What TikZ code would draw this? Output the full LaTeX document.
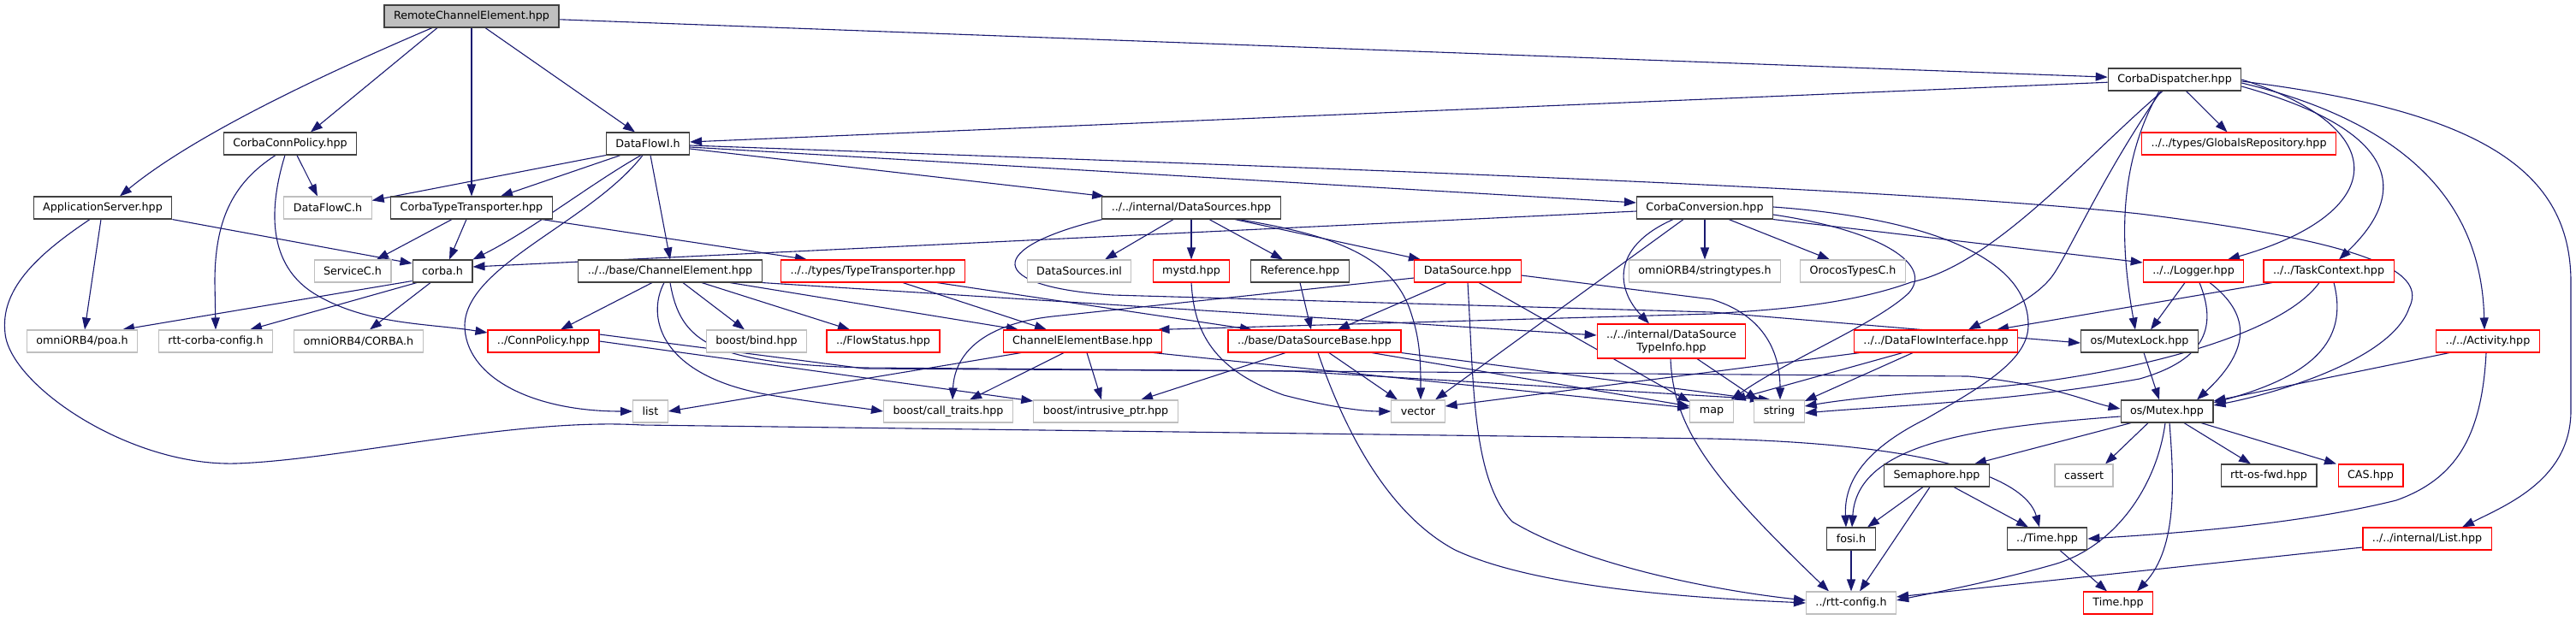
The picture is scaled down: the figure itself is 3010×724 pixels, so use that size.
\documentclass[tikz,border=0pt]{standalone}
\usepackage{fontspec}
\setmainfont{DejaVu Sans}
\usetikzlibrary{arrows.meta}

\definecolor{edgeblue}{HTML}{191970}
\definecolor{boxgray}{HTML}{BFBFBF}
\definecolor{boxred}{HTML}{FF0000}
\definecolor{boxblack}{HTML}{404040}

\pgfdeclarelayer{edges}
\pgfsetlayers{edges,main}

\tikzset{
  file/.style={draw=boxblack, fill=white, line width=1.1pt, minimum height=26pt,
    inner xsep=11pt, inner ysep=0pt, font=\fontsize{12.7}{15}\selectfont},
  rootfile/.style={file, fill=boxgray},
  redfile/.style={file, draw=boxred},
  sysfile/.style={file, draw=boxgray},
  dep/.style={draw=edgeblue, line width=1.1pt, -{Triangle[length=14pt,width=10pt]}}
}

\begin{document}
\begin{tikzpicture}[x=1pt,y=-1pt]
\useasboundingbox (0,0) rectangle (3010,724);

% row 0 and 1
\node[rootfile] (rce) at (551,19) {RemoteChannelElement.hpp};
\node[file] (disp) at (2541,93) {CorbaDispatcher.hpp};

% row 2
\node[file] (connpol) at (339,168) {CorbaConnPolicy.hpp};
\node[file] (dfi) at (757,168) {DataFlowI.h};
\node[redfile] (globrep) at (2616,168) {../../types/GlobalsRepository.hpp};

% row 3
\node[file] (appsrv) at (120,243) {ApplicationServer.hpp};
\node[sysfile] (dfc) at (383,243) {DataFlowC.h};
\node[file] (ctt) at (551,243) {CorbaTypeTransporter.hpp};
\node[file] (dss) at (1392,243) {../../internal/DataSources.hpp};
\node[file] (conv) at (1992,243) {CorbaConversion.hpp};

% row 4
\node[sysfile] (servc) at (412,317) {ServiceC.h};
\node[file] (corbah) at (517,317) {corba.h};
\node[file] (chel) at (783,317) {../../base/ChannelElement.hpp};
\node[redfile] (typetr) at (1020,317) {../../types/TypeTransporter.hpp};
\node[sysfile] (dsinl) at (1261,317) {DataSources.inl};
\node[redfile] (mystd) at (1392,317) {mystd.hpp};
\node[file] (ref) at (1519,317) {Reference.hpp};
\node[redfile] (ds) at (1715,317) {DataSource.hpp};
\node[sysfile] (strtypes) at (1992,317) {omniORB4/stringtypes.h};
\node[sysfile] (orocos) at (2165,317) {OrocosTypesC.h};
\node[redfile] (logger) at (2563,317) {../../Logger.hpp};
\node[redfile] (taskctx) at (2721,317) {../../TaskContext.hpp};

% row 5
\node[sysfile] (poa) at (96,399) {omniORB4/poa.h};
\node[sysfile] (corbacfg) at (252,399) {rtt-corba-config.h};
\node[sysfile] (corbaH) at (419,399) {omniORB4/CORBA.h};
\node[redfile] (connp) at (635,399) {../ConnPolicy.hpp};
\node[sysfile] (bind) at (884,399) {boost/bind.hpp};
\node[redfile] (flow) at (1032,399) {../FlowStatus.hpp};
\node[redfile] (cebase) at (1265,399) {ChannelElementBase.hpp};
\node[redfile] (dsbase) at (1536,399) {../base/DataSourceBase.hpp};
\node[redfile, minimum height=40pt, align=center] (dsti) at (1953,399)
  {../../internal/DataSource\\TypeInfo.hpp};
\node[redfile] (dfif) at (2262,399) {../../DataFlowInterface.hpp};
\node[file] (mlock) at (2500,399) {os/MutexLock.hpp};
\node[redfile] (activity) at (2907,399) {../../Activity.hpp};

% row 6
\node[sysfile] (list) at (760,481) {list};
\node[sysfile] (calltr) at (1108,481) {boost/call\_traits.hpp};
\node[sysfile] (intrus) at (1292,481) {boost/intrusive\_ptr.hpp};
\node[sysfile] (vector) at (1657,481) {vector};
\node[sysfile] (map) at (2000,481) {map};
\node[sysfile] (string) at (2079,481) {string};
\node[file] (mutex) at (2532,481) {os/Mutex.hpp};

% row 7
\node[file] (sema) at (2263,556) {Semaphore.hpp};
\node[sysfile] (cassert) at (2435,556) {cassert};
\node[file] (osfwd) at (2651,556) {rtt-os-fwd.hpp};
\node[redfile] (cas) at (2770,556) {CAS.hpp};

% row 8
\node[file] (fosi) at (2163,630) {fosi.h};
\node[file] (time) at (2392,630) {../Time.hpp};
\node[redfile] (ilist) at (2836,630) {../../internal/List.hpp};

% row 9
\node[sysfile] (rttcfg) at (2163,705) {../rtt-config.h};
\node[redfile] (timeh) at (2475,705) {Time.hpp};

\begin{pgfonlayer}{edges}
% RemoteChannelElement.hpp
\draw[dep] ([xshift=-46pt]rce.south) .. controls (300,120) and (200,180) .. ([xshift=20pt]appsrv.north);
\draw[dep] ([xshift=-40pt]rce.south) -- ([xshift=24pt]connpol.north);
\draw[dep] (rce) -- (ctt);
\draw[dep] ([xshift=16pt]rce.south) -- ([xshift=-15pt]dfi.north);
\draw[dep] (rce) -- (disp);

% CorbaDispatcher.hpp
\draw[dep] (disp) -- (dfi);
\draw[dep] (disp) -- (globrep);
\draw[dep] (disp.east) .. controls (2800,150) and (2790,250) .. ([xshift=40pt]logger.north);
\draw[dep] ([yshift=-8pt]disp.east) .. controls (2830,160) and (2800,240) .. ([xshift=12pt]taskctx.north);
\draw[dep] ([yshift=-4pt]disp.east) .. controls (2840,150) and (2900,260) .. ([xshift=-4pt]activity.north);
\draw[dep] ([yshift=-2pt]disp.east) .. controls (2900,130) and (3004,200) .. (3004,330)
  -- (3004,480) .. controls (3004,560) and (2930,590) .. ([xshift=41pt]ilist.north);
\draw[dep] ([xshift=-14pt]disp.south) .. controls (2440,180) and (2330,310) .. (2233,330)
  .. controls (2150,360) and (2050,363) .. (2000,367) -- ([xshift=-6pt]cebase.north east);
\draw[dep] ([xshift=-16pt]disp.south) .. controls (2460,200) and (2420,290) .. (2400,320)
  .. controls (2380,350) and (2330,370) .. ([xshift=38pt]dfif.north);
\draw[dep] ([xshift=-18pt]disp.south) .. controls (2470,200) and (2480,300) .. ([xshift=-5pt]mlock.north);

% CorbaConnPolicy.hpp
\draw[dep] ([xshift=8pt]connpol.south) -- ([xshift=-12pt]dfc.north);
\draw[dep] ([xshift=-17pt]connpol.south) .. controls (270,215) and (251,260) .. (251,330) -- (corbacfg.north);
\draw[dep] ([xshift=-6pt]connpol.south) .. controls (315,240) and (310,310) .. (370,345)
  .. controls (430,380) and (500,378) .. ([yshift=10pt]connp.west);

% ApplicationServer.hpp
\draw[dep] (appsrv.south east) -- ([yshift=9pt]corbah.west);
\draw[dep] ([xshift=-2pt]appsrv.south) -- ([xshift=3pt]poa.north);
\draw[dep] ([xshift=-15pt]appsrv.south) .. controls (40,300) and (0,340) .. (6,390)
  .. controls (12,450) and (150,545) .. (275,542) .. controls (400,538) and (600,488) .. (750,497)
  -- (2000,513) .. controls (2300,520) and (2370,570) .. ([xshift=-9pt]time.north);

% DataFlowI.h
\draw[dep] (dfi.south west) -- ([yshift=-5pt]dfc.north east);
\draw[dep] ([xshift=-32pt]dfi.south) -- ([xshift=34pt]ctt.north);
\draw[dep] ([xshift=-8pt]dfi.south) .. controls (690,215) and (620,270) .. (corbah.north east);
\draw[dep] ([xshift=-6pt]dfi.south) .. controls (690,260) and (545,310) .. (543,380)
  .. controls (543,440) and (620,481) .. (list.west);
\draw[dep] ([xshift=3pt]dfi.south) -- (chel.north);
\draw[dep] ([yshift=-6pt]dfi.east) -- ([xshift=3pt]dss.north west);
\draw[dep] ([yshift=-4pt]dfi.east) -- ([yshift=6pt]conv.west);
\draw[dep] ([yshift=-2pt]dfi.east) .. controls (1500,195) and (2200,218) .. (2500,250)
  .. controls (2780,285) and (2835,320) .. (2815,360) .. controls (2795,420) and (2660,460) .. ([yshift=7pt]mutex.east);

% CorbaTypeTransporter.hpp and corba.h
\draw[dep] ([xshift=-23pt]ctt.south) -- ([xshift=28pt]servc.north);
\draw[dep] ([xshift=-6pt]ctt.south) -- ([xshift=8pt]corbah.north);
\draw[dep] ([xshift=82pt]ctt.south) -- ([xshift=-77pt]typetr.north);
\draw[dep] ([yshift=2pt]corbah.south west) -- ([xshift=47pt]poa.north);
\draw[dep] ([xshift=-30pt]corbah.south) -- ([xshift=40pt]corbacfg.north);
\draw[dep] ([xshift=-14pt]corbah.south) -- ([xshift=13pt]corbaH.north);

% ChannelElement.hpp
\draw[dep] ([xshift=-21pt]chel.south) -- ([xshift=20pt]connp.north);
\draw[dep] ([xshift=-7pt]chel.south) .. controls (755,370) and (770,440) .. (900,462)
  .. controls (960,472) and (1000,476) .. (calltr.west);
\draw[dep] (chel.south) .. controls (795,400) and (830,425) .. (1010,430)
  -- (2300,440) .. controls (2400,450) and (2440,470) .. ([yshift=3pt]mutex.west);
\draw[dep] ([xshift=15pt]chel.south) -- ([xshift=-14pt]bind.north);
\draw[dep] ([xshift=37pt]chel.south) -- ([xshift=-39pt]flow.north);
\draw[dep] ([xshift=70pt]chel.south) -- ([xshift=-75pt]cebase.north);
\draw[dep] (chel.south east) -- ([yshift=7pt]dsti.west);

% TypeTransporter.hpp
\draw[dep] ([xshift=35pt]typetr.south) -- ([xshift=-42pt]cebase.north);
\draw[dep] ([xshift=75pt]typetr.south) -- ([xshift=-73pt]dsbase.north);

% DataSources.hpp
\draw[dep] ([xshift=-21pt]dss.south) -- ([xshift=30pt]dsinl.north);
\draw[dep] (dss) -- (mystd);
\draw[dep] ([xshift=21pt]dss.south) -- ([xshift=-20pt]ref.north);
\draw[dep] ([xshift=51pt]dss.south) -- ([xshift=-55pt]ds.north);
\draw[dep] ([xshift=55pt]dss.south) .. controls (1560,275) and (1630,300) .. (1650,370)
  .. controls (1660,400) and (1660,430) .. ([xshift=3pt]vector.north);
\draw[dep] ([xshift=-104pt]dss.south) .. controls (1150,290) and (1150,335) .. (1300,345)
  -- (2000,365) -- ([yshift=-2pt]mlock.west);

% mystd.hpp, Reference.hpp, DataSource.hpp
\draw[dep] (mystd.south) .. controls (1395,380) and (1410,430) .. (1500,462)
  .. controls (1550,475) and (1590,481) .. (vector.west);
\draw[dep] (ref.south) -- ([xshift=-4pt]dsbase.north);
\draw[dep] ([xshift=-25pt]ds.south) -- ([xshift=27pt]dsbase.north);
\draw[dep] ([yshift=-8pt]ds.west) -- (1230,370) .. controls (1140,380) and (1115,420) .. ([xshift=5pt]calltr.north);
\draw[dep] (ds.south) .. controls (1722,450) and (1720,560) .. (1767,610)
  .. controls (1850,660) and (2000,690) .. ([yshift=3pt]rttcfg.west);
\draw[dep] ([xshift=13pt]ds.south) -- ([yshift=11pt]map.west);
\draw[dep] ([yshift=-5pt]ds.east) -- (2000,350) .. controls (2050,365) and (2080,400) .. ([xshift=1pt]string.north);

% DataSourceBase.hpp
\draw[dep] ([xshift=17pt]dsbase.south) -- ([xshift=-24pt]vector.north);
\draw[dep] ([xshift=-34pt]dsbase.south) -- ([xshift=41pt]intrus.north);
\draw[dep] ([xshift=4pt]dsbase.south) .. controls (1570,500) and (1620,600) .. (1700,643)
  .. controls (1800,690) and (2000,700) .. (rttcfg.west);
\draw[dep] ([xshift=67pt]dsbase.south) -- ([yshift=6pt]map.west);
\draw[dep] (dsbase.south east) -- ([xshift=-20pt]string.north);

% ChannelElementBase.hpp and ConnPolicy.hpp
\draw[dep] ([xshift=-72pt]cebase.south) -- (list.east);
\draw[dep] ([xshift=-22pt]cebase.south) -- ([xshift=25pt]calltr.north);
\draw[dep] ([xshift=5pt]cebase.south) -- ([xshift=-5pt]intrus.north);
\draw[dep] ([xshift=83pt]cebase.south) -- ([yshift=4pt]map.west);
\draw[dep] (connp.east) -- ([yshift=12pt]intrus.west);
\draw[dep] ([yshift=8pt]connp.east) -- (1010,431) -- (1510,434) -- ([xshift=-10pt]string.north);

% DataSourceTypeInfo.hpp, DataFlowInterface.hpp
\draw[dep] ([xshift=-1pt]dsti.south) .. controls (1955,500) and (2000,560) .. ([xshift=-26pt]rttcfg.north);
\draw[dep] ([xshift=30pt]dsti.south) -- ([xshift=-25pt]string.north);
\draw[dep] ([xshift=-89pt]dfif.south) -- ([yshift=6pt]vector.east);
\draw[dep] ([xshift=-39pt]dfif.south) -- (map.north east);
\draw[dep] ([xshift=-27pt]dfif.south) -- ([yshift=12pt]string.east);

% CorbaConversion.hpp
\draw[dep] ([yshift=-4pt]conv.west) -- ([yshift=5pt]corbah.east);
\draw[dep] (conv) -- (strtypes);
\draw[dep] ([xshift=28pt]conv.south) -- ([xshift=-27pt]orocos.north);
\draw[dep] (conv.south east) -- ([yshift=10pt]logger.west);
\draw[dep] ([xshift=-25pt]conv.south) -- ([xshift=20pt]vector.north);
\draw[dep] ([xshift=-37pt]conv.south) .. controls (1880,290) and (1890,340) .. ([xshift=-26pt]dsti.north);
\draw[dep] ([yshift=-8pt]conv.east) .. controls (2200,270) and (2260,310) .. (2230,343)
  .. controls (2190,380) and (2090,420) .. ([xshift=-3pt]map.north east);
\draw[dep] ([yshift=1pt]conv.east) .. controls (2250,255) and (2370,300) .. (2370,380)
  .. controls (2370,420) and (2320,450) .. (2250,490) .. controls (2170,530) and (2155,570) .. ([xshift=-6pt]fosi.north);

% Logger.hpp, TaskContext.hpp, Activity.hpp
\draw[dep] ([xshift=-10pt]logger.south) -- ([xshift=13pt]mlock.north);
\draw[dep] ([xshift=7pt]logger.south) .. controls (2590,380) and (2580,420) .. (2500,443)
  .. controls (2350,470) and (2200,475) .. ([yshift=-2pt]string.east);
\draw[dep] ([xshift=19pt]logger.south) .. controls (2620,360) and (2640,400) .. ([xshift=35pt]mutex.north);
\draw[dep] ([xshift=-66pt]taskctx.south) -- ([xshift=71pt]dfif.north);
\draw[dep] ([xshift=-11pt]taskctx.south) .. controls (2660,400) and (2450,445) .. (2300,455)
  .. controls (2200,462) and (2150,468) .. ([yshift=6pt]string.east);
\draw[dep] ([xshift=6pt]taskctx.south) .. controls (2745,400) and (2700,440) .. ([yshift=10pt]mutex.east);
\draw[dep] ([xshift=-45pt]activity.south) -- ([yshift=12pt]mutex.east);
\draw[dep] ([xshift=-2pt]activity.south) .. controls (2900,510) and (2870,560) .. (2800,585)
  .. controls (2680,615) and (2520,625) .. (time.east);

% MutexLock.hpp, Mutex.hpp
\draw[dep] ([xshift=5pt]mlock.south) -- ([xshift=-9pt]mutex.north);
\draw[dep] ([yshift=-6pt]mutex.west) .. controls (2300,500) and (2170,520) .. ([xshift=1pt]fosi.north);
\draw[dep] ([xshift=-42pt]mutex.south) -- ([xshift=44pt]sema.north);
\draw[dep] ([xshift=-22pt]mutex.south) -- ([xshift=25pt]cassert.north);
\draw[dep] ([xshift=20pt]mutex.south) -- ([xshift=-21pt]osfwd.north);
\draw[dep] ([xshift=40pt]mutex.south) -- ([xshift=-40pt]cas.north);
\draw[dep] ([xshift=-2pt]mutex.south) .. controls (2520,570) and (2470,640) .. (2400,660)
  .. controls (2330,680) and (2250,695) .. ([yshift=3pt]rttcfg.east);
\draw[dep] ([xshift=3pt]mutex.south) .. controls (2540,560) and (2545,640) .. ([xshift=22pt]timeh.north);

% Semaphore.hpp, fosi.h, Time.hpp, List.hpp
\draw[dep] ([xshift=-16pt]sema.south) -- ([xshift=19pt]fosi.north);
\draw[dep] ([xshift=-8pt]sema.south) -- ([xshift=10pt]rttcfg.north);
\draw[dep] ([xshift=20pt]sema.south) -- ([xshift=-22pt]time.north);
\draw[dep] (fosi) -- (rttcfg);
\draw[dep] ([xshift=15pt]time.south) -- ([xshift=-13pt]timeh.north);
\draw[dep] ([yshift=-10pt]ilist.west) -- ([yshift=7pt]rttcfg.east);
\end{pgfonlayer}

\end{tikzpicture}
\end{document}
